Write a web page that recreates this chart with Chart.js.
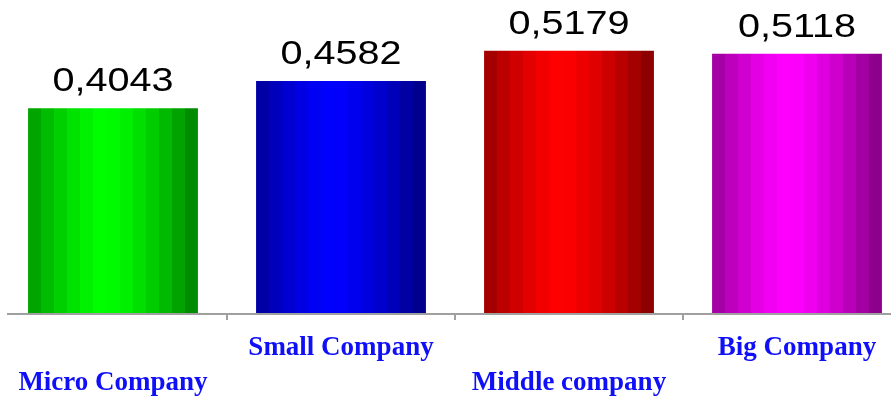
<!DOCTYPE html>
<html>
<head>
<meta charset="utf-8">
<script src="https://cdn.jsdelivr.net/npm/chart.js@4/dist/chart.umd.min.js"></script>
<style>
    html, body { margin: 0; padding: 0; background: #fff; overflow: hidden; }
    #wrap { position: absolute; left: -1px; top: 0; width: 912px; height: 396px; }
</style>
</head>
<body>
<div id="wrap"><canvas id="companies" width="912" height="396"></canvas></div>
<script>
const categories = ["Micro Company", "Small Company", "Middle company", "Big Company"];
const values = [0.4043, 0.4582, 0.5179, 0.5118];
const baseColors = [[0, 255, 0], [0, 0, 255], [255, 0, 0], [255, 0, 255]];

// brightness across a bar: bright stripe a bit left of centre, darker edges
function shade(t) {
    const peak = 0.45;
    if (t < peak) return 1 - 0.4 * Math.pow((peak - t) / peak, 1.4);
    return 1 - 0.5 * Math.pow((t - peak) / (1 - peak), 1.4);
}

function barFill(context) {
    const chart = context.chart;
    const { ctx, chartArea, scales } = chart;
    const i = context.dataIndex;
    const base = baseColors[i];
    if (!chartArea) return `rgb(${base.join(",")})`;
    const step = scales.x.width / categories.length;
    const half = (step * 0.745) / 2;
    const cx = scales.x.getPixelForValue(i);
    const grad = ctx.createLinearGradient(cx - half, 0, cx + half, 0);
    const bands = 13;
    for (let b = 0; b < bands; b++) {
        const k = shade((b + 0.5) / bands);
        const c = `rgb(${base.map((v) => Math.round(v * k)).join(",")})`;
        grad.addColorStop(b / bands, c);
        grad.addColorStop(Math.min(1, (b + 1) / bands - 0.0001), c);
    }
    return grad;
}

// numbers above the bars, decimal comma, a little wide
const valueLabels = {
    id: "valueLabels",
    afterDatasetsDraw(chart) {
        const ctx = chart.ctx;
        const meta = chart.getDatasetMeta(0);
        ctx.save();
        ctx.fillStyle = "#000";
        ctx.font = "33px 'Liberation Sans', Arial, sans-serif";
        ctx.textAlign = "center";
        ctx.textBaseline = "alphabetic";
        meta.data.forEach((bar, i) => {
            const text = values[i].toFixed(4).replace(".", ",");
            ctx.save();
            ctx.translate(bar.x, bar.y - 17);
            ctx.scale(1.2, 1);
            ctx.fillText(text, 0, 0);
            ctx.restore();
        });
        ctx.restore();
    },
};

// grey base line with small ticks between categories
const baseLine = {
    id: "baseLine",
    afterDatasetsDraw(chart) {
        const { ctx, chartArea, scales } = chart;
        const y = chartArea.bottom + 1;
        const step = scales.x.width / categories.length;
        ctx.save();
        ctx.strokeStyle = "#a0a0a0";
        ctx.lineWidth = 2;
        ctx.beginPath();
        ctx.moveTo(8, y);
        ctx.lineTo(chart.width, y);
        for (let i = 1; i < categories.length; i++) {
            const x = Math.round(scales.x.getPixelForValue(i) - step / 2);
            ctx.moveTo(x, y);
            ctx.lineTo(x, y + 6);
        }
        ctx.stroke();
        ctx.restore();
    },
};

new Chart(document.getElementById("companies"), {
    type: "bar",
    data: {
        labels: categories,
        datasets: [
            {
                data: values,
                backgroundColor: barFill,
                borderWidth: 0,
                barPercentage: 0.745,
                categoryPercentage: 1,
            },
        ],
    },
    options: {
        responsive: false,
        animation: false,
        events: [],
        layout: { padding: 0 },
        plugins: {
            legend: { display: false },
            tooltip: { enabled: false },
        },
        scales: {
            x: {
                grid: { display: false },
                border: { display: false },
                afterFit: (scale) => {
                    scale.height = 83;
                },
                ticks: {
                    autoSkip: false,
                    maxRotation: 0,
                    padding: 10,
                    color: "#1010f8",
                    font: {
                        family: "'Liberation Serif', 'Times New Roman', serif",
                        size: 27,
                        weight: "bold",
                        lineHeight: "35px",
                    },
                    // alternate rows so the long names do not collide
                    callback: (value, index) =>
                        index % 2 ? [categories[index], ""] : ["", categories[index]],
                },
            },
            y: {
                display: false,
                min: 0,
                max: 0.618,
            },
        },
    },
    plugins: [valueLabels, baseLine],
});
</script>
</body>
</html>
